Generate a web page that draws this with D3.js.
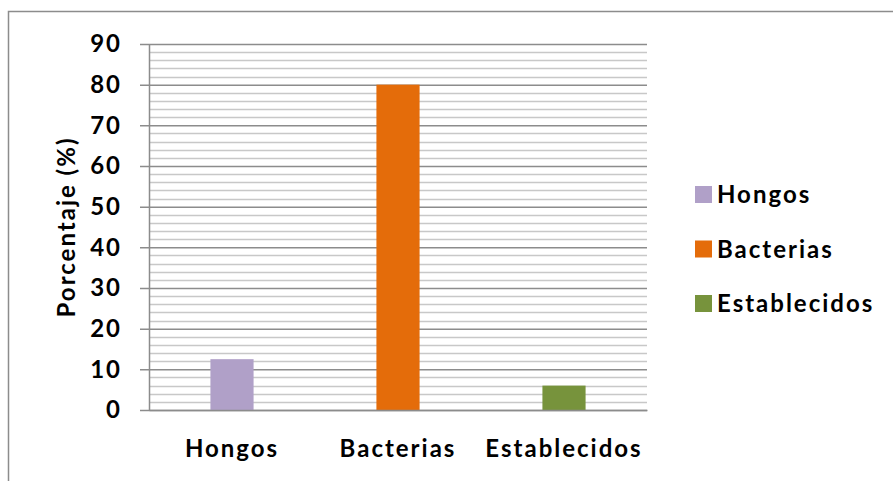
<!DOCTYPE html>
<html lang="es">
<head>
<meta charset="utf-8">
<title>Porcentaje</title>
<script src="https://cdn.jsdelivr.net/npm/d3@7/dist/d3.min.js"></script>
<style>
  body { margin: 0; background: #fff; }
  text { font-family: Lato, "Open Sans", sans-serif; font-weight: bold; fill: #000; letter-spacing: 2px; }
</style>
</head>
<body>
<div id="chart"></div>
<script>
var categorias = ["Hongos", "Bacterias", "Establecidos"];
var valores = [12.5, 80, 6];
var colores = ["#b0a0c8", "#e46c0a", "#77933c"];
var yTicks = [0, 10, 20, 30, 40, 50, 60, 70, 80, 90];

var W = 893, H = 481;
var margin = { top: 44, left: 149, right: 246, bottom: 71 };
var width = W - margin.left - margin.right,
    height = H - margin.top - margin.bottom;

var svg = d3.select("#chart").append("svg")
    .attr("width", W)
    .attr("height", H);

// marco exterior
svg.append("rect")
    .attr("x", 8.5).attr("y", 11.5)
    .attr("width", W + 10).attr("height", H + 10)
    .attr("fill", "none")
    .attr("stroke", "#8c8c8c")
    .attr("stroke-width", 1.5);

var g = svg.append("g")
    .attr("transform", "translate(" + margin.left + "," + margin.top + ")");

var x = d3.scaleBand()
    .domain(categorias)
    .range([0, width])
    .paddingInner(0.74)
    .paddingOuter(0.37);

var y = d3.scaleLinear()
    .domain([0, 90])
    .range([height, 0]);

// lineas menores
g.append("g").selectAll("line")
    .data(d3.range(0, 91, 2).filter(function(v) { return v % 10 !== 0; }))
    .enter().append("line")
    .attr("x1", 0).attr("x2", width)
    .attr("y1", function(d) { return Math.round(y(d)) + 0.5; })
    .attr("y2", function(d) { return Math.round(y(d)) + 0.5; })
    .attr("stroke", "#c8c8c8")
    .attr("stroke-width", 1.5);

// lineas mayores
var yAxis = d3.axisLeft(y)
    .tickValues(yTicks)
    .tickSize(-width)
    .tickPadding(27);

var ya = g.append("g").call(yAxis);
ya.select(".domain").remove();
ya.selectAll(".tick line")
    .attr("x1", -9)
    .attr("stroke", "#8c8c8c")
    .attr("stroke-width", 1.5);
ya.selectAll(".tick text")
    .style("font-size", "24px")
    .style("font-family", "Lato, sans-serif")
    .style("font-weight", "bold");

// eje vertical
g.append("line")
    .attr("x1", 0.5).attr("x2", 0.5)
    .attr("y1", 0).attr("y2", height)
    .attr("stroke", "#8c8c8c")
    .attr("stroke-width", 1.5);

// barras
g.selectAll(".bar")
    .data(valores)
    .enter().append("rect")
    .attr("class", "bar")
    .attr("x", function(d, i) { return x(categorias[i]); })
    .attr("width", x.bandwidth())
    .attr("y", function(d) { return y(d); })
    .attr("height", function(d) { return height - y(d); })
    .attr("fill", function(d, i) { return colores[i]; });

// eje x
var xa = g.append("g")
    .attr("transform", "translate(0," + height + ")")
    .call(d3.axisBottom(x).tickSize(0).tickPadding(30));
xa.select(".domain")
    .attr("stroke", "#8c8c8c")
    .attr("stroke-width", 1.5);
xa.selectAll("text")
    .style("font-size", "24px")
    .style("font-family", "Lato, sans-serif")
    .style("font-weight", "bold");

// titulo eje y
svg.append("text")
    .attr("transform", "translate(75," + (margin.top + height / 2) + ") rotate(-90)")
    .attr("text-anchor", "middle")
    .style("font-size", "24px")
    .text("Porcentaje (%)");

// leyenda
var leyenda = svg.selectAll(".leyenda")
    .data(categorias)
    .enter().append("g")
    .attr("class", "leyenda")
    .attr("transform", function(d, i) { return "translate(695," + (186 + i * 54.5) + ")"; });

leyenda.append("rect")
    .attr("width", 17).attr("height", 17)
    .attr("fill", function(d, i) { return colores[i]; });

leyenda.append("text")
    .attr("x", 22)
    .attr("y", 9)
    .attr("dy", ".35em")
    .style("font-size", "24px")
    .text(function(d) { return d; });
</script>
</body>
</html>
